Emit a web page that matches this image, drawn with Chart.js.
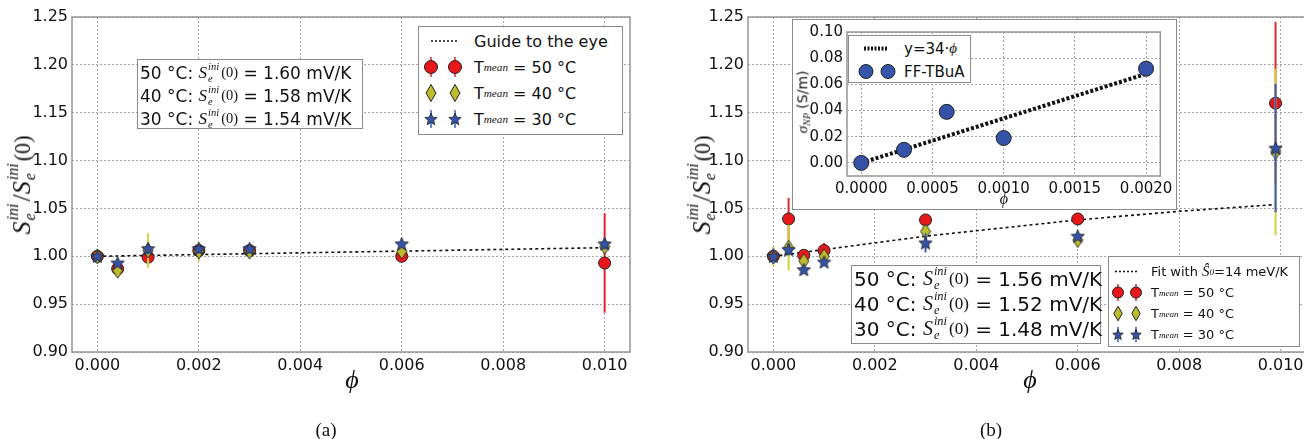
<!DOCTYPE html>
<html>
<head>
<meta charset="utf-8">
<script src="https://cdn.jsdelivr.net/npm/chart.js@4.4.0/dist/chart.umd.min.js"></script>
<style>
html, body { margin:0; padding:0; overflow:hidden; }
body { width:1304px; height:439px; background:#fff; position:relative; font-family:"DejaVu Sans", sans-serif; color:#111; }
canvas { position:absolute; }
.box { position:absolute; background:#fff; border:1px solid #8a8a8a; box-sizing:border-box; }
.row { display:flex; align-items:center; white-space:nowrap; }
.m { font-family:"Liberation Serif", serif; font-style:italic; }
.r { font-family:"Liberation Serif", serif; font-size:0.85em; }
.ud { display:inline-flex; flex-direction:column; font-family:"Liberation Serif", serif; font-style:italic;
      font-size:0.62em; line-height:1.05; vertical-align:0.72em; margin:0 2px 0 1px; }
.sub { font-family:"Liberation Serif", serif; font-style:italic; font-size:0.7em; vertical-align:-0.35em; }
.ylab { position:absolute; transform:translate(-50%,-50%) rotate(-90deg); white-space:nowrap; font-size:26px; }
.xlab { position:absolute; transform:translate(-50%,-50%); font-family:"Liberation Serif", serif; font-style:italic; font-size:26px; }
.cap { position:absolute; transform:translate(-50%,-50%); font-family:"Liberation Serif", serif; font-size:19px; }
</style>
</head>
<body>
<canvas id="chartA" width="650" height="439" style="left:0;top:0"></canvas>
<canvas id="chartB" width="680" height="439" style="left:650px;top:0"></canvas>

<div class="box" style="left:792px;top:19px;width:385px;height:191px"></div>
<canvas id="chartInset" width="385" height="191" style="left:792px;top:19px"></canvas>

<!-- axis titles -->
<div class="ylab" style="left:22px;top:185px"><span class="m">S</span><span class="ud"><span>ini</span><span>e</span></span><span class="r" style="font-size:1em">/</span><span class="m">S</span><span class="ud"><span>ini</span><span>e</span></span><span class="r">(0)</span></div>
<div class="ylab" style="left:702px;top:185px"><span class="m">S</span><span class="ud"><span>ini</span><span>e</span></span><span class="r" style="font-size:1em">/</span><span class="m">S</span><span class="ud"><span>ini</span><span>e</span></span><span class="r">(0)</span></div>
<div class="xlab" style="left:352px;top:380px">ϕ</div>
<div class="xlab" style="left:1030px;top:380px">ϕ</div>
<div class="cap" style="left:326px;top:430px">(a)</div>
<div class="cap" style="left:991px;top:430px">(b)</div>

<!-- inset titles -->
<div class="ylab" style="left:803px;top:102px;font-size:14px"><span class="m" style="font-size:1.1em">σ</span><span class="sub">NP</span> (S/m)</div>
<div class="xlab" style="left:1004px;top:199px;font-size:16px">ϕ</div>

<!-- panel (a) text box -->
<div class="box" style="left:137px;top:59px;width:226px;height:70px;font-size:17px;padding:1px 0 0 2px">
  <div class="row" style="height:23px">50 °C:&nbsp;<span class="m">S</span><span class="ud"><span>ini</span><span>e</span></span><span class="r">(0)</span>&nbsp;= 1.60 mV/K</div>
  <div class="row" style="height:23px">40 °C:&nbsp;<span class="m">S</span><span class="ud"><span>ini</span><span>e</span></span><span class="r">(0)</span>&nbsp;= 1.58 mV/K</div>
  <div class="row" style="height:23px">30 °C:&nbsp;<span class="m">S</span><span class="ud"><span>ini</span><span>e</span></span><span class="r">(0)</span>&nbsp;= 1.54 mV/K</div>
</div>

<!-- panel (a) legend -->
<div class="box" style="left:418px;top:26px;width:205px;height:109px;font-size:16px;padding-top:1px">
  <div class="row" style="height:26px"><svg width="55" height="26"><line x1="12" y1="13" x2="38" y2="13" stroke="#111" stroke-width="1.5" stroke-dasharray="2,2"/></svg>Guide to the eye</div>
  <div class="row" style="height:26px"><svg width="55" height="26" id="lgA50"></svg>T<span class="sub">mean</span>&nbsp;= 50 °C</div>
  <div class="row" style="height:26px"><svg width="55" height="26" id="lgA40"></svg>T<span class="sub">mean</span>&nbsp;= 40 °C</div>
  <div class="row" style="height:26px"><svg width="55" height="26" id="lgA30"></svg>T<span class="sub">mean</span>&nbsp;= 30 °C</div>
</div>

<!-- panel (b) text box -->
<div class="box" style="left:851px;top:265px;width:250px;height:79px;font-size:20px;padding:0 0 0 2px">
  <div class="row" style="height:25px">50 °C:&nbsp;<span class="m">S</span><span class="ud"><span>ini</span><span>e</span></span><span class="r">(0)</span>&nbsp;= 1.56 mV/K</div>
  <div class="row" style="height:25px">40 °C:&nbsp;<span class="m">S</span><span class="ud"><span>ini</span><span>e</span></span><span class="r">(0)</span>&nbsp;= 1.52 mV/K</div>
  <div class="row" style="height:25px">30 °C:&nbsp;<span class="m">S</span><span class="ud"><span>ini</span><span>e</span></span><span class="r">(0)</span>&nbsp;= 1.48 mV/K</div>
</div>

<!-- panel (b) legend -->
<div class="box" style="left:1108px;top:256px;width:192px;height:91px;font-size:13px;padding-top:4px">
  <div class="row" style="height:21px"><svg width="42" height="21"><line x1="6" y1="10.5" x2="30" y2="10.5" stroke="#111" stroke-width="1.5" stroke-dasharray="2,2"/></svg>Fit with&nbsp;<span class="m" style="font-size:1.15em">Ŝ</span><span class="sub">0</span>=14 meV/K</div>
  <div class="row" style="height:21px"><svg width="42" height="21" id="lgB50"></svg>T<span class="sub">mean</span>&nbsp;= 50 °C</div>
  <div class="row" style="height:21px"><svg width="42" height="21" id="lgB40"></svg>T<span class="sub">mean</span>&nbsp;= 40 °C</div>
  <div class="row" style="height:21px"><svg width="42" height="21" id="lgB30"></svg>T<span class="sub">mean</span>&nbsp;= 30 °C</div>
</div>

<!-- inset legend -->
<div class="box" style="left:848px;top:35px;width:123px;height:48px;font-size:15px;padding-top:1px">
  <div class="row" style="height:23px"><svg width="55" height="23"><line x1="15" y1="11.5" x2="38" y2="11.5" stroke="#111" stroke-width="4" stroke-dasharray="2,1.5"/></svg>y=34·<span class="m">ϕ</span></div>
  <div class="row" style="height:23px"><svg width="55" height="23"><circle cx="17" cy="11.5" r="7" fill="#3455a8" stroke="#222" stroke-width="1"/><circle cx="39" cy="11.5" r="7" fill="#3455a8" stroke="#222" stroke-width="1"/></svg>FF-TBuA</div>
</div>

<script>
// ---- panel (a) ----
const xA = [0, 0.0004, 0.001, 0.002, 0.003, 0.006, 0.010];
const a50 = [1.000, 0.987, 0.999, 1.006, 1.006, 1.000, 0.993];
const a50err = [0.004, 0.004, 0.004, 0.005, 0.005, 0.004, 0.052];
const a40 = [1.000, 0.985, 1.006, 1.005, 1.005, 1.005, 1.010];
const a40err = [0.005, 0.004, 0.018, 0.010, 0.006, 0.005, 0.005];
const a30 = [1.000, 0.993, 1.008, 1.008, 1.008, 1.013, 1.013];
const a30err = [0.004, 0.004, 0.006, 0.005, 0.005, 0.004, 0.006];
const guideX = [0, 0.010];
const guideY = [1.000, 1.009];

// ---- panel (b) ----
const xB = [0, 0.0003, 0.0006, 0.001, 0.003, 0.006, 0.0099];
const b50 = [1.000, 1.039, 1.001, 1.006, 1.038, 1.039, 1.160];
const b50err = [0.004, 0.022, 0.003, 0.008, 0.004, 0.004, 0.085];
const b40 = [1.000, 1.009, 0.995, 1.000, 1.026, 1.017, 1.109];
const b40err = [0.010, 0.024, 0.004, 0.004, 0.004, 0.004, 0.087];
const b30 = [1.000, 1.007, 0.986, 0.994, 1.014, 1.021, 1.113];
const b30err = [0.008, 0.006, 0.003, 0.003, 0.010, 0.004, 0.067];
const fitX = [0, 0.001, 0.003, 0.006, 0.008, 0.0099];
const fitY = [1.000, 1.007, 1.021, 1.038, 1.047, 1.054];

// ---- inset ----
const insetX = [0, 0.0003, 0.0006, 0.001, 0.002];
const insetY = [0, 0.010, 0.039, 0.019, 0.072];
const lineX = [0, 0.002];
const lineY = [0, 0.068];

// tick labels
const mainXTicks = [0, 0.002, 0.004, 0.006, 0.008, 0.010];
const mainYTicks = [0.90, 0.95, 1.00, 1.05, 1.10, 1.15, 1.20, 1.25];
const insetXTicks = [0, 0.0005, 0.001, 0.0015, 0.002];
const insetYTicks = [0, 0.02, 0.04, 0.06, 0.08, 0.10];

const RED = '#e8171c', OLIVE = '#bcbc2c', BLUE = '#3453a8';
const ERR_RED = '#e0262a', ERR_OLIVE = '#d2d23c', ERR_BLUE = '#3c5cb8';

function makeDiamond(w, h) {
  const c = document.createElement('canvas');
  c.width = w + 2; c.height = h + 2;
  const g = c.getContext('2d');
  g.beginPath();
  g.moveTo(c.width / 2, 1); g.lineTo(c.width - 1, c.height / 2);
  g.lineTo(c.width / 2, c.height - 1); g.lineTo(1, c.height / 2); g.closePath();
  g.fillStyle = OLIVE; g.fill();
  g.strokeStyle = '#222'; g.lineWidth = 0.9; g.stroke();
  return c;
}
function makeStar(r) {
  const c = document.createElement('canvas');
  c.width = c.height = Math.ceil(r * 2 + 3);
  const g = c.getContext('2d');
  const cx = c.width / 2, cy = c.height / 2 + 0.5;
  g.beginPath();
  for (let i = 0; i < 10; i++) {
    const rr = i % 2 ? r * 0.45 : r;
    const a = -Math.PI / 2 + i * Math.PI / 5;
    g.lineTo(cx + rr * Math.cos(a), cy + rr * Math.sin(a));
  }
  g.closePath();
  g.fillStyle = BLUE; g.fill();
  g.strokeStyle = '#222'; g.lineWidth = 0.8; g.stroke();
  return c;
}
const diamond = makeDiamond(10, 15);
const star = makeStar(7);

const pts = (xs, ys) => xs.map((x, i) => ({ x: x, y: ys[i] }));

// vertical error bars drawn just before each dataset's markers
const errorBars = {
  id: 'errorBars',
  beforeDatasetDraw(chart, args) {
    const ds = chart.data.datasets[args.index];
    if (!ds.errors) return;
    const { ctx } = chart;
    const x = chart.scales.x, y = chart.scales.y;
    ctx.save();
    ctx.strokeStyle = ds.errColor;
    ctx.lineWidth = 2;
    ds.data.forEach((p, i) => {
      const px = x.getPixelForValue(p.x);
      ctx.beginPath();
      ctx.moveTo(px, y.getPixelForValue(p.y - ds.errors[i]));
      ctx.lineTo(px, y.getPixelForValue(p.y + ds.errors[i]));
      ctx.stroke();
    });
    ctx.restore();
  }
};

// grey frame round the plot area
const frame = {
  id: 'frame',
  beforeDatasetsDraw(chart) {
    const { ctx, chartArea: a } = chart;
    ctx.save();
    ctx.strokeStyle = '#959595';
    ctx.lineWidth = 1.5;
    ctx.strokeRect(a.left, a.top, a.right - a.left, a.bottom - a.top);
    ctx.restore();
  }
};

function series(label, xs, ys, errs, kind) {
  const base = { label: label, data: pts(xs, ys), errors: errs, showLine: false, pointRadius: 6, pointHoverRadius: 6 };
  if (kind === 50) return Object.assign(base, { pointStyle: 'circle', backgroundColor: RED, borderColor: '#222', borderWidth: 1, errColor: ERR_RED, order: 3 });
  if (kind === 40) return Object.assign(base, { pointStyle: diamond, backgroundColor: OLIVE, borderColor: '#222', errColor: ERR_OLIVE, order: 2 });
  return Object.assign(base, { pointStyle: star, backgroundColor: BLUE, borderColor: '#222', errColor: ERR_BLUE, order: 1 });
}

function scaleOpts(min, max, ticks, digits, width, height, size) {
  const o = {
    type: 'linear', min: min, max: max,
    afterBuildTicks: s => { s.ticks = ticks.map(v => ({ value: v })); },
    ticks: { callback: v => v.toFixed(digits), color: '#111', font: { family: 'DejaVu Sans', size: size }, padding: 4, maxRotation: 0, autoSkip: false },
    grid: { color: '#a6a6a6', lineWidth: 1, drawTicks: false, borderDash: [2, 2] },
    border: { display: false, dash: [2, 2] }
  };
  if (width) o.afterFit = s => { s.width = width; };
  if (height) o.afterFit = s => { s.height = height; };
  return o;
}

function mainChart(id, datasets, padLeft, padRight) {
  return new Chart(document.getElementById(id), {
    type: 'scatter',
    data: { datasets: datasets },
    options: {
      responsive: false, animation: false, devicePixelRatio: 1,
      layout: { padding: { left: padLeft, right: padRight, top: 17, bottom: 59 } },
      plugins: { legend: { display: false }, tooltip: { enabled: false } },
      scales: {
        x: scaleOpts(-0.0005, 0.0105, mainXTicks, 3, 0, 28, 16),
        y: scaleOpts(0.90, 1.25, mainYTicks, 2, 72, 0, 16)
      }
    },
    plugins: [frame, errorBars]
  });
}

mainChart('chartA', [
  { label: 'Guide to the eye', data: pts(guideX, guideY), showLine: true, borderColor: '#111', borderWidth: 1.6, borderDash: [3, 3], pointRadius: 0, order: 4 },
  series('T mean = 50 °C', xA, a50, a50err, 50),
  series('T mean = 40 °C', xA, a40, a40err, 40),
  series('T mean = 30 °C', xA, a30, a30err, 30)
], 0, 20);

mainChart('chartB', [
  { label: 'Fit', data: pts(fitX, fitY), showLine: true, borderColor: '#111', borderWidth: 1.6, borderDash: [3, 3], pointRadius: 0, order: 4 },
  series('T mean = 50 °C', xB, b50, b50err, 50),
  series('T mean = 40 °C', xB, b40, b40err, 40),
  series('T mean = 30 °C', xB, b30, b30err, 30)
], 26, 24);

new Chart(document.getElementById('chartInset'), {
  type: 'scatter',
  data: {
    datasets: [
      { label: 'y=34·ϕ', data: pts(lineX, lineY), showLine: true, borderColor: '#111', borderWidth: 4, borderDash: [3, 2], pointRadius: 0, order: 2 },
      { label: 'FF-TBuA', data: pts(insetX, insetY), showLine: false, pointRadius: 7.5, pointHoverRadius: 7.5, backgroundColor: BLUE, borderColor: '#222', borderWidth: 1, order: 1 }
    ]
  },
  options: {
    responsive: false, animation: false, devicePixelRatio: 1,
    layout: { padding: { left: 0, right: 15, top: 9, bottom: 14 } },
    plugins: { legend: { display: false }, tooltip: { enabled: false } },
    scales: {
      x: scaleOpts(-0.0001, 0.0021, insetXTicks, 4, 0, 20, 15),
      y: scaleOpts(-0.01, 0.10, insetYTicks, 2, 55, 0, 15)
    }
  },
  plugins: [frame]
});

// legend symbols (two markers each, like the figure)
function legendSymbols(id, xs, cy, kind, scale) {
  const svg = document.getElementById(id);
  let s = '';
  xs.forEach(cx => {
    if (kind === 50) {
      s += `<line x1="${cx}" y1="${cy - 10 * scale}" x2="${cx}" y2="${cy + 10 * scale}" stroke="${ERR_RED}" stroke-width="1.5"/>`;
      s += `<circle cx="${cx}" cy="${cy}" r="${6.5 * scale}" fill="${RED}" stroke="#222" stroke-width="1"/>`;
    } else if (kind === 40) {
      const w = 5 * scale, h = 8.5 * scale;
      s += `<polygon points="${cx},${cy - h} ${cx + w},${cy} ${cx},${cy + h} ${cx - w},${cy}" fill="${OLIVE}" stroke="#222" stroke-width="1"/>`;
    } else {
      s += `<line x1="${cx}" y1="${cy - 9 * scale}" x2="${cx}" y2="${cy + 9 * scale}" stroke="${ERR_BLUE}" stroke-width="1.5"/>`;
      let p = [];
      for (let i = 0; i < 10; i++) {
        const rr = (i % 2 ? 2.9 : 6.5) * scale, a = -Math.PI / 2 + i * Math.PI / 5;
        p.push((cx + rr * Math.cos(a)).toFixed(2) + ',' + (cy + 0.5 + rr * Math.sin(a)).toFixed(2));
      }
      s += `<polygon points="${p.join(' ')}" fill="${BLUE}" stroke="#222" stroke-width="0.8"/>`;
    }
  });
  svg.innerHTML = s;
}
legendSymbols('lgA50', [12, 36], 13, 50, 1);
legendSymbols('lgA40', [12, 36], 13, 40, 1);
legendSymbols('lgA30', [12, 36], 13, 30, 1);
legendSymbols('lgB50', [9, 27], 10.5, 50, 0.85);
legendSymbols('lgB40', [9, 27], 10.5, 40, 0.85);
legendSymbols('lgB30', [9, 27], 10.5, 30, 0.85);
</script>
</body>
</html>
